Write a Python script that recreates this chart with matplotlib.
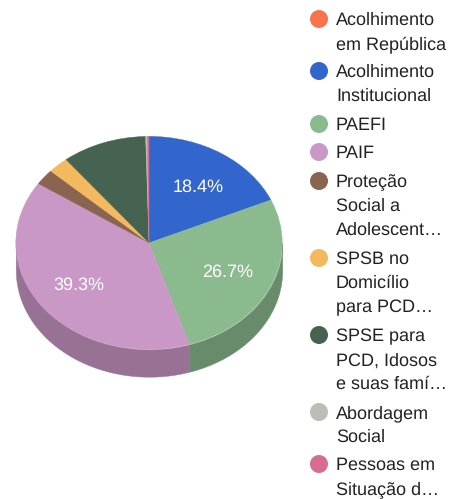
#!/usr/bin/env python

import matplotlib
matplotlib.use('Agg')
import matplotlib.pyplot as plt
from matplotlib.colors import to_rgb
from matplotlib.patches import Circle
import numpy as np

plt.rcParams['font.family'] = ['Liberation Sans', 'DejaVu Sans']
plt.rcParams['text.hinting'] = 'no_hinting'
plt.rcParams['text.hinting_factor'] = 1

legend_labels = ['Acolhimento\nem República', 'Acolhimento\nInstitucional',
                 'PAEFI', 'PAIF', 'Proteção\nSocial a\nAdolescent…',
                 'SPSB no\nDomicílio\npara PCD…', 'SPSE para\nPCD, Idosos\ne suas famí…',
                 'Abordagem\nSocial', 'Pessoas em\nSituação d…']
values = [0, 18.4, 26.7, 39.3, 2.4, 2.5, 10.3, 0.2, 0.2]
percent_labels = ['', '18.4%', '26.7%', '39.3%', '', '', '', '', '']
colors = ['#f9744c', '#3366cc', '#8bba8f', '#c998c6', '#8a6450',
          '#f4b95f', '#456350', '#bdbdb7', '#d86b92']

W, H = 451, 499
CX, CY, RX, RY, DEPTH = 149.0, 242.9, 133.2, 106.5, 27.3


def main():
    fig = plt.figure(figsize=(W / 100, H / 100), dpi=100)

    # pie axes covers the ellipse exactly, stretched on purpose
    ax = fig.add_axes([(CX - RX) / W, 1 - (CY + RY) / H, 2 * RX / W, 2 * RY / H])
    wedges, _ = ax.pie(values, colors=colors, startangle=90, counterclock=False,
                       radius=1, center=(0, 0), frame=False,
                       wedgeprops={'linewidth': 0.3})
    for w, c in zip(wedges, colors):
        w.set_edgecolor(c)
        w.set_zorder(3)
    ax.set_aspect('auto')
    ax.set_xlim(-1, 1)
    ax.set_ylim(-1, 1)
    ax.axis('off')

    # side wall: only the front half of the rim shows
    total = sum(values)
    drop = DEPTH / RY
    start = 0
    for v, c in zip(values, colors):
        end = start + v / total * 360
        a0, a1 = max(start, 90), min(end, 270)
        if a1 > a0:
            t = np.radians(np.linspace(a0, a1, 120))
            x = np.sin(t)
            y = np.cos(t)
            dark = tuple(k * 0.75 for k in to_rgb(c))
            ax.fill_between(x, y - drop, y, color=dark, linewidth=0.3,
                            clip_on=False, zorder=1)
        start = end

    # overlay in pixel coordinates for the labels and legend
    ov = fig.add_axes([0, 0, 1, 1])
    ov.set_xlim(0, W)
    ov.set_ylim(H, 0)
    ov.axis('off')
    ov.patch.set_alpha(0)

    label_pos = {1: (198, 192.3), 2: (227.3, 277.3), 3: (79.3, 290)}
    for i, (tx, ty) in label_pos.items():
        ov.text(tx, ty, percent_labels[i], color='white', fontsize=13,
                ha='center', va='baseline')

    legend_y = [19, 71, 124, 152, 181, 258, 335, 412, 464]
    for y, lab, c in zip(legend_y, legend_labels, colors):
        ov.add_patch(Circle((319, y), 9, color=c, linewidth=0))
        for j, line in enumerate(lab.split('\n')):
            ov.text(336, y + 6.3 + 24 * j, line, color='#222222', fontsize=12.96,
                    ha='left', va='baseline')

    fig.savefig('out.png', dpi=100)


if __name__ == '__main__':
    main()
